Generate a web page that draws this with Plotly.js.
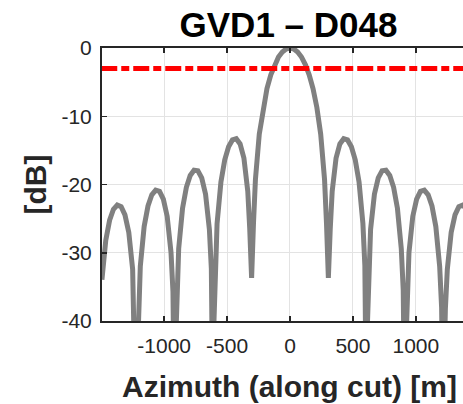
<!DOCTYPE html>
<html>
<head>
<meta charset="utf-8">
<script src="https://cdn.plot.ly/plotly-3.0.1.min.js"></script>
<style>html,body{margin:0;padding:0;background:#fff;}#chart{width:463px;height:404px;}</style>
</head>
<body>
<div id="chart"></div>
<script>
// Azimuth positions along cut [m]
var azimuth = [
 -1494.5,-1464,-1433.5,-1403,-1372.5,-1342,-1311.5,-1281,-1250.5,-1235,-1226,-1220,-1214,-1205,-1189.5,
 -1159,-1128.5,-1098,-1067.5,-1037,-1006.5,-976,-945.5,-930,-921,-915,-909,-900,-884.5,
 -854,-823.5,-793,-762.5,-732,-701.5,-671,-640.5,-625,-616,-610,-604,-595,-579.5,
 -549,-518.5,-488,-457.5,-427,-396.5,-366,-335.5,-320,-305,-290,-274.5,
 -244,-213.5,-183,-152.5,-122,-91.5,-61,-30.5,0,
 30.5,61,91.5,122,152.5,183,213.5,244,274.5,
 290,305,320,335.5,366,396.5,427,457.5,488,518.5,549,579.5,
 595,604,610,616,625,640.5,671,701.5,732,762.5,793,823.5,854,884.5,
 900,909,915,921,930,945.5,976,1006.5,1037,1067.5,1098,1128.5,1159,1189.5,
 1205,1214,1220,1226,1235,1250.5,1281,1311.5,1342,1372.5,1403,1433.5,1464,1494.5
];
// Antenna pattern [dB]
var patternDb = [
 -33.95,-28.18,-25.23,-23.63,-23.01,-23.25,-24.45,-27.02,-32.40,-38.21,-46.1,-60,-45.96,-37.99,-31.97,
 -26.15,-23.15,-21.51,-20.82,-21.01,-22.15,-24.66,-29.97,-35.74,-43.6,-60,-43.47,-35.45,-29.39,
 -23.50,-20.41,-18.68,-17.90,-17.98,-19.02,-21.41,-26.59,-32.29,-40.09,-60,-39.92,-31.86,-25.72,
 -19.66,-16.39,-14.46,-13.47,-13.30,-14.06,-16.14,-20.97,-26.48,-33.7,-25.61,-19.23,
 -12.62,-8.69,-5.94,-3.92,-2.42,-1.33,-0.58,-0.14,0,
 -0.14,-0.58,-1.33,-2.42,-3.92,-5.94,-8.69,-12.62,-19.23,
 -25.61,-33.7,-26.48,-20.97,-16.14,-14.06,-13.30,-13.47,-14.46,-16.39,-19.66,-25.72,
 -31.86,-39.92,-60,-40.09,-32.29,-26.59,-21.41,-19.02,-17.98,-17.90,-18.68,-20.41,-23.50,-29.39,
 -35.45,-43.47,-60,-43.6,-35.74,-29.97,-24.66,-22.15,-21.01,-20.82,-21.51,-23.15,-26.15,-31.97,
 -37.99,-45.96,-60,-46.1,-38.21,-32.40,-27.02,-24.45,-23.25,-23.01,-23.63,-25.23,-28.18,-33.95
];
// -3 dB reference level
var refX = [-1500, 1500];
var refY = [-3, -3];

var xTicks = [-1000, -500, 0, 500, 1000];
var xTickText = ['-1000', '-500', '0', '500', '1000'];
var yTicks = [-40, -30, -20, -10, 0];
var yTickText = ['-40', '-30', '-20', '-10', '0'];

var axisColor = '#262626';
var font = 'Liberation Sans, Arial, sans-serif';

var traces = [
  {x: azimuth, y: patternDb, mode: 'lines', type: 'scatter',
   line: {color: '#808080', width: 5}, hoverinfo: 'skip', showlegend: false},
  {x: refX, y: refY, mode: 'lines', type: 'scatter',
   line: {color: '#ff0000', width: 5, dash: '16px,4px,8px,4px'}, hoverinfo: 'skip', showlegend: false}
];

var layout = {
  width: 463, height: 404,
  margin: {l: 102, r: 0, t: 48, b: 83},
  paper_bgcolor: '#ffffff', plot_bgcolor: '#ffffff',
  showlegend: false,
  title: {text: '<b>GVD1 – D048</b>', font: {family: font, size: 35, color: '#000000'},
          x: 288.5/463, xref: 'container', xanchor: 'center',
          y: 1 - 25/404, yref: 'container', yanchor: 'middle'},
  xaxis: {
    range: [-1494, 1375], tickvals: xTicks, ticktext: xTickText,
    ticks: 'inside', ticklen: 5, tickwidth: 1.5, tickcolor: axisColor,
    showline: true, linecolor: axisColor, linewidth: 2, mirror: 'ticks',
    showgrid: true, gridcolor: '#e3e3e3', gridwidth: 1, zeroline: false,
    tickfont: {family: font, size: 21, color: axisColor},
    ticklabelstandoff: 5
  },
  yaxis: {
    range: [-40, 0], tickvals: yTicks, ticktext: yTickText,
    ticks: 'inside', ticklen: 5, tickwidth: 1.5, tickcolor: axisColor,
    showline: true, linecolor: axisColor, linewidth: 2, mirror: false,
    showgrid: true, gridcolor: '#e3e3e3', gridwidth: 1, zeroline: false,
    tickfont: {family: font, size: 21, color: axisColor},
    ticklabelstandoff: 4,
    title: {text: '<b>[dB]</b>', font: {family: font, size: 30, color: axisColor}, standoff: 6}
  },
  annotations: [
    {text: '<b>Azimuth (along cut) [m]</b>', xref: 'x', x: 0, xanchor: 'center',
     yref: 'paper', y: 0, yanchor: 'middle', yshift: -65, showarrow: false,
     font: {family: font, size: 30, color: axisColor}}
  ]
};

Plotly.newPlot('chart', traces, layout, {staticPlot: true, displayModeBar: false});
</script>
</body>
</html>
